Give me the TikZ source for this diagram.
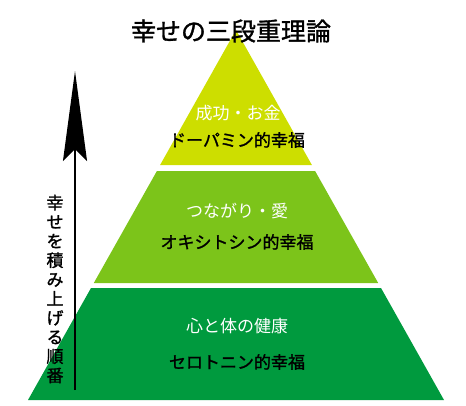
\documentclass[tikz,border=0pt]{standalone}
\usepackage{fontspec}
\newfontfamily\jp{Noto Sans CJK JP}
\newfontfamily\jpb[FakeBold=1.3]{Noto Sans CJK JP}
\usetikzlibrary{arrows.meta}
\definecolor{layerA}{RGB}{205,222,0}
\definecolor{layerB}{RGB}{124,196,26}
\definecolor{layerC}{RGB}{0,154,62}
\tikzset{
  wlabel/.style={font=\jp\fontsize{17}{17}\selectfont, text=white, inner sep=0pt},
  blabel/.style={font=\jpb\fontsize{17}{17}\selectfont, text=black, inner sep=0pt},
}
\begin{document}
\begin{tikzpicture}[x=1pt,y=-1pt]
\useasboundingbox (0,0) rectangle (466,405);
% layers
\fill[layerA] (236,30) -- (311.9,165) -- (160.1,165) -- cycle;
\fill[layerB] (156.9,171) -- (315.1,171) -- (378.2,283) -- (93.8,283) -- cycle;
\fill[layerC] (91,288) -- (381,288) -- (444,400) -- (28,400) -- cycle;
% title
\node[font=\jpb\fontsize{25}{25}\selectfont, inner sep=0pt] (title) at (231,31) {幸せの三段重理論};
% labels
\node[wlabel] (t1) at (238,113) {成功・お金};
\node[blabel] (t2) at (237,140) {ドーパミン的幸福};
\node[wlabel] (m1) at (237,211) {つながり・愛};
\node[blabel] (m2) at (237,242) {オキシトシン的幸福};
\node[wlabel] (b1) at (237,326) {心と体の健康};
\node[blabel] (b2) at (237,362) {セロトニン的幸福};
% arrow
\coordinate (abot) at (75,390);
\coordinate (atop) at (75,71);
\draw[line width=2.2pt, -{Stealth[length=90pt,width=24pt,inset=12pt]}] (abot) -- (atop);
\node[font=\jpb\fontsize{17}{19.2}\selectfont, align=center, inner sep=0pt] (vt) at (55,289)
  {幸\\せ\\を\\積\\み\\上\\げ\\る\\順\\番};
\end{tikzpicture}
\end{document}
